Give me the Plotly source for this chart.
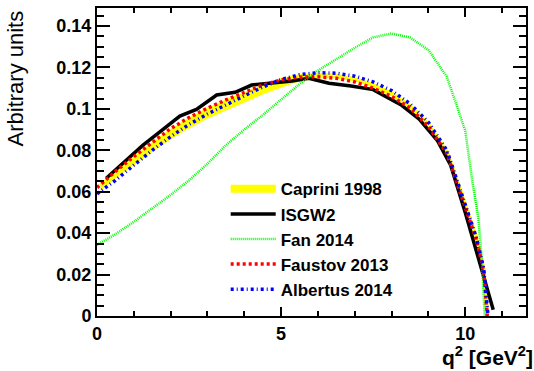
import plotly.graph_objects as go

# q^2 grid (GeV^2) and differential rate shapes, arbitrary units
caprini_q2 = [0.1, 0.5, 1, 1.5, 2, 2.5, 3, 3.5, 4, 4.5, 5, 5.5, 6, 6.5, 7, 7.5,
              8, 8.5, 9, 9.5, 10, 10.3, 10.5, 10.6]
caprini_hi = [0.0630, 0.0690, 0.0760, 0.0828, 0.0892, 0.0948, 0.0995, 0.1035,
              0.1072, 0.1108, 0.1138, 0.1158, 0.1165, 0.1160, 0.1144, 0.1115,
              0.1074, 0.1014, 0.0925, 0.0792, 0.0535, 0.0375, 0.0225, 0.0]
caprini_lo = [0.0608, 0.0665, 0.0730, 0.0795, 0.0855, 0.0908, 0.0955, 0.0995,
              0.1035, 0.1072, 0.1105, 0.1135, 0.1150, 0.1150, 0.1135, 0.1105,
              0.1063, 0.1002, 0.0910, 0.0778, 0.0520, 0.0355, 0.0205, 0.0]

isgw2_q2 = [0.25, 0.75, 1.25, 1.75, 2.25, 2.7, 3.25, 3.75, 4.2, 4.75, 5.3, 5.75,
            6.3, 6.9, 7.5, 8.25, 8.75, 9.25, 9.6, 10.0, 10.4, 10.76]
isgw2 = [0.0665, 0.0745, 0.0825, 0.0895, 0.0965, 0.0997, 0.1067, 0.1080,
         0.1115, 0.1125, 0.1135, 0.1148, 0.1124, 0.1110, 0.1093, 0.1020,
         0.0950, 0.0845, 0.0730, 0.0500, 0.0255, 0.0030]

fan_q2 = [0, 0.5, 1, 1.5, 2, 2.5, 3, 3.5, 4, 4.5, 5, 5.5, 6, 6.5, 7, 7.5, 8,
          8.5, 9, 9.5, 10, 10.2, 10.35, 10.45, 10.53]
fan = [0.0343, 0.0395, 0.0455, 0.0520, 0.0585, 0.0655, 0.0735, 0.0825, 0.0900,
       0.0970, 0.1045, 0.1120, 0.1185, 0.1240, 0.1295, 0.1345, 0.1364, 0.1345,
       0.1284, 0.1155, 0.0895, 0.0640, 0.0480, 0.0280, 0.0]

faustov_q2 = [0, 0.5, 1, 1.5, 2, 2.5, 3, 3.5, 4, 4.5, 5, 5.5, 6, 6.5, 7, 7.5,
              8, 8.5, 9, 9.5, 10, 10.3, 10.5, 10.6]
faustov = [0.0620, 0.0698, 0.0770, 0.0840, 0.0905, 0.0958, 0.1003, 0.1043,
           0.1080, 0.1115, 0.1140, 0.1153, 0.1155, 0.1148, 0.1130, 0.1100,
           0.1060, 0.1005, 0.0915, 0.0785, 0.0525, 0.0370, 0.0220, 0.0]

albertus_q2 = [0, 0.5, 1, 1.5, 2, 2.5, 3, 3.5, 4, 4.5, 5, 5.5, 6, 6.5, 7, 7.5,
               8, 8.5, 9, 9.5, 10, 10.3, 10.5, 10.62]
albertus = [0.0590, 0.0655, 0.0728, 0.0800, 0.0866, 0.0925, 0.0975, 0.1020,
            0.1063, 0.1105, 0.1142, 0.1165, 0.1175, 0.1172, 0.1158, 0.1130,
            0.1088, 0.1025, 0.0935, 0.0800, 0.0545, 0.0380, 0.0230, 0.0]

X_RANGE = [0, 11.65]
Y_RANGE = [0, 0.1487]
FONT = "Liberation Sans"

fig = go.Figure()

# Caprini 1998 band
fig.add_trace(go.Scatter(x=caprini_q2, y=caprini_lo, mode="lines",
                         line=dict(color="#ffff00", width=1),
                         showlegend=False, hoverinfo="skip"))
fig.add_trace(go.Scatter(x=caprini_q2, y=caprini_hi, mode="lines",
                         line=dict(color="#ffff00", width=4),
                         fill="tonexty", fillcolor="#ffff00",
                         name="Caprini 1998"))
fig.add_trace(go.Scatter(x=isgw2_q2, y=isgw2, mode="lines",
                         line=dict(color="black", width=3.5),
                         name="ISGW2"))
fig.add_trace(go.Scatter(x=fan_q2, y=fan, mode="lines",
                         line=dict(color="#00ff00", width=2.5, dash="1px,1px"),
                         name="Fan 2014"))
fig.add_trace(go.Scatter(x=faustov_q2, y=faustov, mode="lines",
                         line=dict(color="#ff0000", width=3.5, dash="3px,3px"),
                         name="Faustov 2013"))
fig.add_trace(go.Scatter(x=albertus_q2, y=albertus, mode="lines",
                         line=dict(color="#0000ff", width=3.5,
                                   dash="3px,3px,1px,3px"),
                         name="Albertus 2014"))

tick_font = dict(family=FONT, size=18, color="black", weight="bold")
axis_common = dict(showgrid=False, zeroline=False, showline=True,
                   linecolor="black", linewidth=2, ticks="inside",
                   tickcolor="black", tickwidth=1.5, mirror="allticks")

fig.update_xaxes(range=X_RANGE, dtick=5, tick0=0, ticklen=9,
                 minor=dict(dtick=1, ticklen=5, ticks="inside",
                            tickcolor="black", tickwidth=1.5),
                 tickfont=tick_font, **axis_common)
fig.update_yaxes(range=Y_RANGE, dtick=0.02, tick0=0, ticklen=13,
                 minor=dict(dtick=0.005, ticklen=7, ticks="inside",
                            tickcolor="black", tickwidth=1.5),
                 tickfont=tick_font, **axis_common)

fig.add_annotation(text="q<sup>2</sup> [GeV<sup>2</sup>]", xref="paper",
                   yref="paper", x=1.022, y=-0.13, xanchor="right",
                   yanchor="middle", showarrow=False,
                   font=dict(family=FONT, size=21, color="black",
                             weight="bold"))
fig.add_annotation(text="Arbitrary units", xref="paper", yref="paper",
                   x=-0.19, y=1.0, xanchor="center", yanchor="top",
                   textangle=-90, showarrow=False,
                   font=dict(family=FONT, size=22, color="black"))

fig.update_layout(
    width=534, height=371,
    margin=dict(l=97, r=6, t=8, b=55),
    paper_bgcolor="white", plot_bgcolor="white",
    legend=dict(x=0.30, y=0.47, xanchor="left", yanchor="top",
                traceorder="normal",
                bgcolor="rgba(0,0,0,0)", borderwidth=0, itemwidth=45,
                tracegroupgap=0,
                font=dict(family=FONT, size=17, color="black",
                          weight="bold")),
)

fig.write_html("out.html")
